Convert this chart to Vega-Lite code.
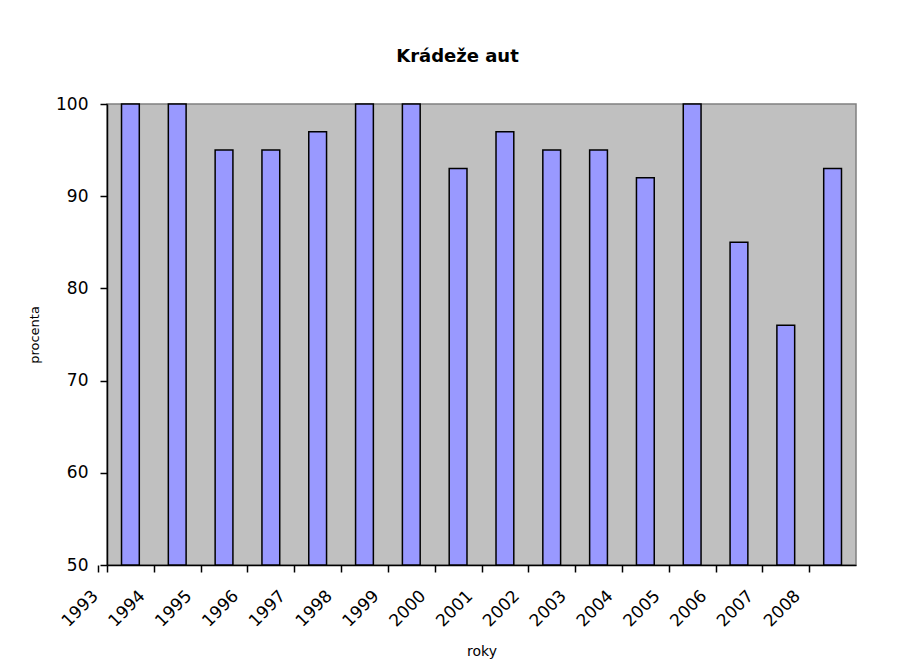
{
  "$schema": "https://vega.github.io/schema/vega-lite/v6.json",
  "width": 749,
  "height": 461,
  "autosize": "none",
  "padding": {"left": 107, "top": 104, "right": 41, "bottom": 105},
  "background": "white",
  "title": {"text": "Krádeže aut", "font": "DejaVu Sans", "fontSize": 18, "fontWeight": "bold", "color": "black", "baseline": "alphabetic", "offset": 15, "dx": -24},
  "data": {"values": [
    {"rok": "1993", "procenta": 100},
    {"rok": "1994", "procenta": 100},
    {"rok": "1995", "procenta": 95},
    {"rok": "1996", "procenta": 95},
    {"rok": "1997", "procenta": 97},
    {"rok": "1998", "procenta": 100},
    {"rok": "1999", "procenta": 100},
    {"rok": "2000", "procenta": 93},
    {"rok": "2001", "procenta": 97},
    {"rok": "2002", "procenta": 95},
    {"rok": "2003", "procenta": 95},
    {"rok": "2004", "procenta": 92},
    {"rok": "2005", "procenta": 100},
    {"rok": "2006", "procenta": 85},
    {"rok": "2007", "procenta": 76},
    {"rok": "2008", "procenta": 93}
  ]},
  "mark": {"type": "bar", "fill": "#9999FF", "stroke": "black", "strokeWidth": 1.5},
  "encoding": {
    "x": {
      "field": "rok", "type": "ordinal",
      "scale": {"paddingInner": 0.62, "paddingOuter": 0.31},
      "axis": {
        "title": "roky", "titleFont": "DejaVu Sans", "titleFontSize": 14, "titleFontWeight": "normal", "titleColor": "black", "titlePadding": 15,
        "labelFont": "DejaVu Sans", "labelFontSize": 17, "labelColor": "black", "labelAngle": -45, "labelAlign": "right", "labelBaseline": "middle",
        "labelOffset": -12, "labelPadding": 21,
        "tickOffset": -23.4, "tickExtra": true, "tickSize": 7, "tickColor": "black", "tickWidth": 1.5,
        "domainColor": "black", "domainWidth": 1.5, "grid": false
      }
    },
    "y": {
      "field": "procenta", "type": "quantitative",
      "scale": {"domain": [50, 100], "zero": false, "nice": false},
      "axis": {
        "title": "procenta", "titleFont": "DejaVu Sans", "titleFontSize": 13, "titleFontWeight": "normal", "titleColor": "black", "titlePadding": 14,
        "values": [50, 60, 70, 80, 90, 100],
        "labelFont": "DejaVu Sans", "labelFontSize": 17, "labelColor": "black", "labelPadding": 12,
        "tickSize": 7, "tickColor": "black", "tickWidth": 1.5,
        "domainColor": "black", "domainWidth": 1.5, "grid": false
      }
    },
    "y2": {"datum": 50}
  },
  "config": {"view": {"fill": "#C0C0C0", "stroke": "#808080", "strokeWidth": 1.5}}
}
